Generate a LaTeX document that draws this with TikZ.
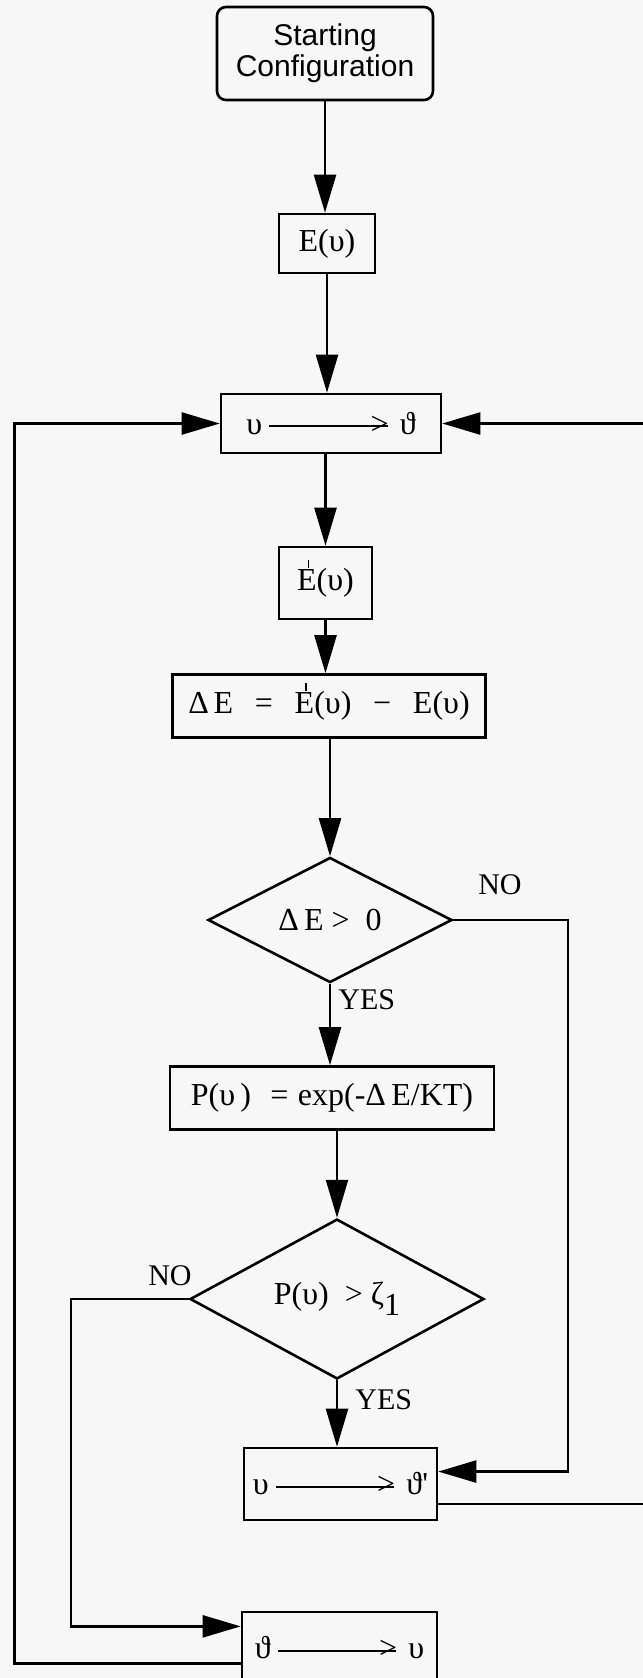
\documentclass[tikz,border=0pt]{standalone}
\usepackage{fontspec}
\setmainfont{Liberation Serif}
\newfontfamily\sansf{Liberation Sans}
\usetikzlibrary{shapes.geometric,arrows.meta,calc}
\newcommand\Eprime{\ooalign{E\cr\hfil\kern0.1em\rule[0.71em]{0.06em}{0.24em}\hfil\cr}}
\newcommand\longto{\hspace{0.22em}\rule[0.23em]{3.7em}{0.05em}\kern-0.53em>\hspace{0.35em}}
\newcommand\gap{\hspace{0.68em}}
\begin{document}
\begin{tikzpicture}[x=0.5pt,y=-0.5pt,
  txt/.style={font=\fontsize{16}{18}\selectfont},
  box/.style={draw,line width=1.3pt,inner sep=0pt,txt},
  dia/.style={draw,diamond,line width=1.3pt,inner sep=0pt,txt},
  arr/.style={line width=1.2pt,-{Triangle[length=19pt,width=11pt]}},
  conn/.style={line width=1.2pt},
  lab/.style={inner sep=0pt,font=\fontsize{15}{17}\selectfont}]
\useasboundingbox (0,0) rectangle (643,1678);
\clip (0,0) rectangle (643,1678);
\fill[black!3] (0,0) rectangle (643,1678);

\node[box,rounded corners=4.5pt,minimum width=108pt,minimum height=46.5pt,
      font=\sansf\fontsize{15}{15.5}\selectfont,align=center] (start) at (325,53.5) {Starting\\Configuration};
\node[box,minimum width=48pt,minimum height=29.5pt] (E) at (327,243.5) {E(υ)};
\node[box,minimum width=110pt,minimum height=29.5pt] (top) at (331,423.5) {υ\longto ϑ};
\node[box,minimum width=46.5pt,minimum height=36pt] (Ep) at (325.5,583) {\Eprime(υ)};
\node[box,minimum width=156.5pt,minimum height=31.5pt] (dE) at (329,706) {Δ\hspace{0.15em}E\gap=\gap\Eprime(υ)\gap−\gap E(υ)};
\node[dia,minimum width=122pt,minimum height=59pt] (D1) at (330,920) {Δ\,E~>~~0};
\node[box,minimum width=162pt,minimum height=31.5pt] (P) at (332,1098) {P(υ\,)\hspace{0.6em}=\hspace{0.3em}exp(-Δ\,E/KT)};
\node[dia,minimum width=147pt,minimum height=77pt] (D2) at (337,1299) {P(υ)~~>~ζ\raisebox{-0.35em}{1}};
\node[box,minimum width=96.5pt,minimum height=36pt] (vv) at (340.5,1484) {υ\longto ϑ\textquotesingle};
\node[box,minimum width=97.5pt,minimum height=36pt] (bot) at (339.5,1648) {ϑ\longto υ};

\node[lab] (no1) at (500,885) {NO};
\node[lab,anchor=west] (yes1) at (338,1000) {YES};
\node[lab] (no2) at (170,1276) {NO};
\node[lab,anchor=west] (yes2) at (355,1400) {YES};

\draw[arr] (start.south) -- (start.south |- E.north);
\draw[arr] (E.south) -- (E.south |- top.north);
\draw[arr] (top.south -| Ep.north) -- (Ep.north);
\draw[arr] (Ep.south) -- (Ep.south |- dE.north);
\draw[arr] (dE.south -| D1.north) -- (D1.north);
\draw[arr] (D1.south) -- (D1.south |- P.north);
\draw[arr] (P.south -| D2.north) -- (D2.north);
\draw[arr] (D2.south) -- (D2.south |- vv.north);

\coordinate (vvin) at ($(vv.north east)!0.333!(vv.south east)$);
\coordinate (vvout) at ($(vv.north east)!0.764!(vv.south east)$);
\coordinate (botin) at ($(bot.north west)!0.21!(bot.south west)$);
\coordinate (botout) at ($(bot.north west)!0.71!(bot.south west)$);
\coordinate (rx) at (568,0);
\coordinate (lx) at (71,0);
\coordinate (ox) at (14.5,0);
\coordinate (edgeR) at (650,0);

\draw[arr] (D1.east) -| (rx |- vvin) -- (vvin);
\draw[conn] (vvout) -- (vvout -| edgeR);
\draw[arr] (top.east -| edgeR) -- (top.east);
\draw[arr] (D2.west) -| (lx |- botin) -- (botin);
\draw[arr] (botout) -| (ox |- top.west) -- (top.west);
\end{tikzpicture}
\end{document}
